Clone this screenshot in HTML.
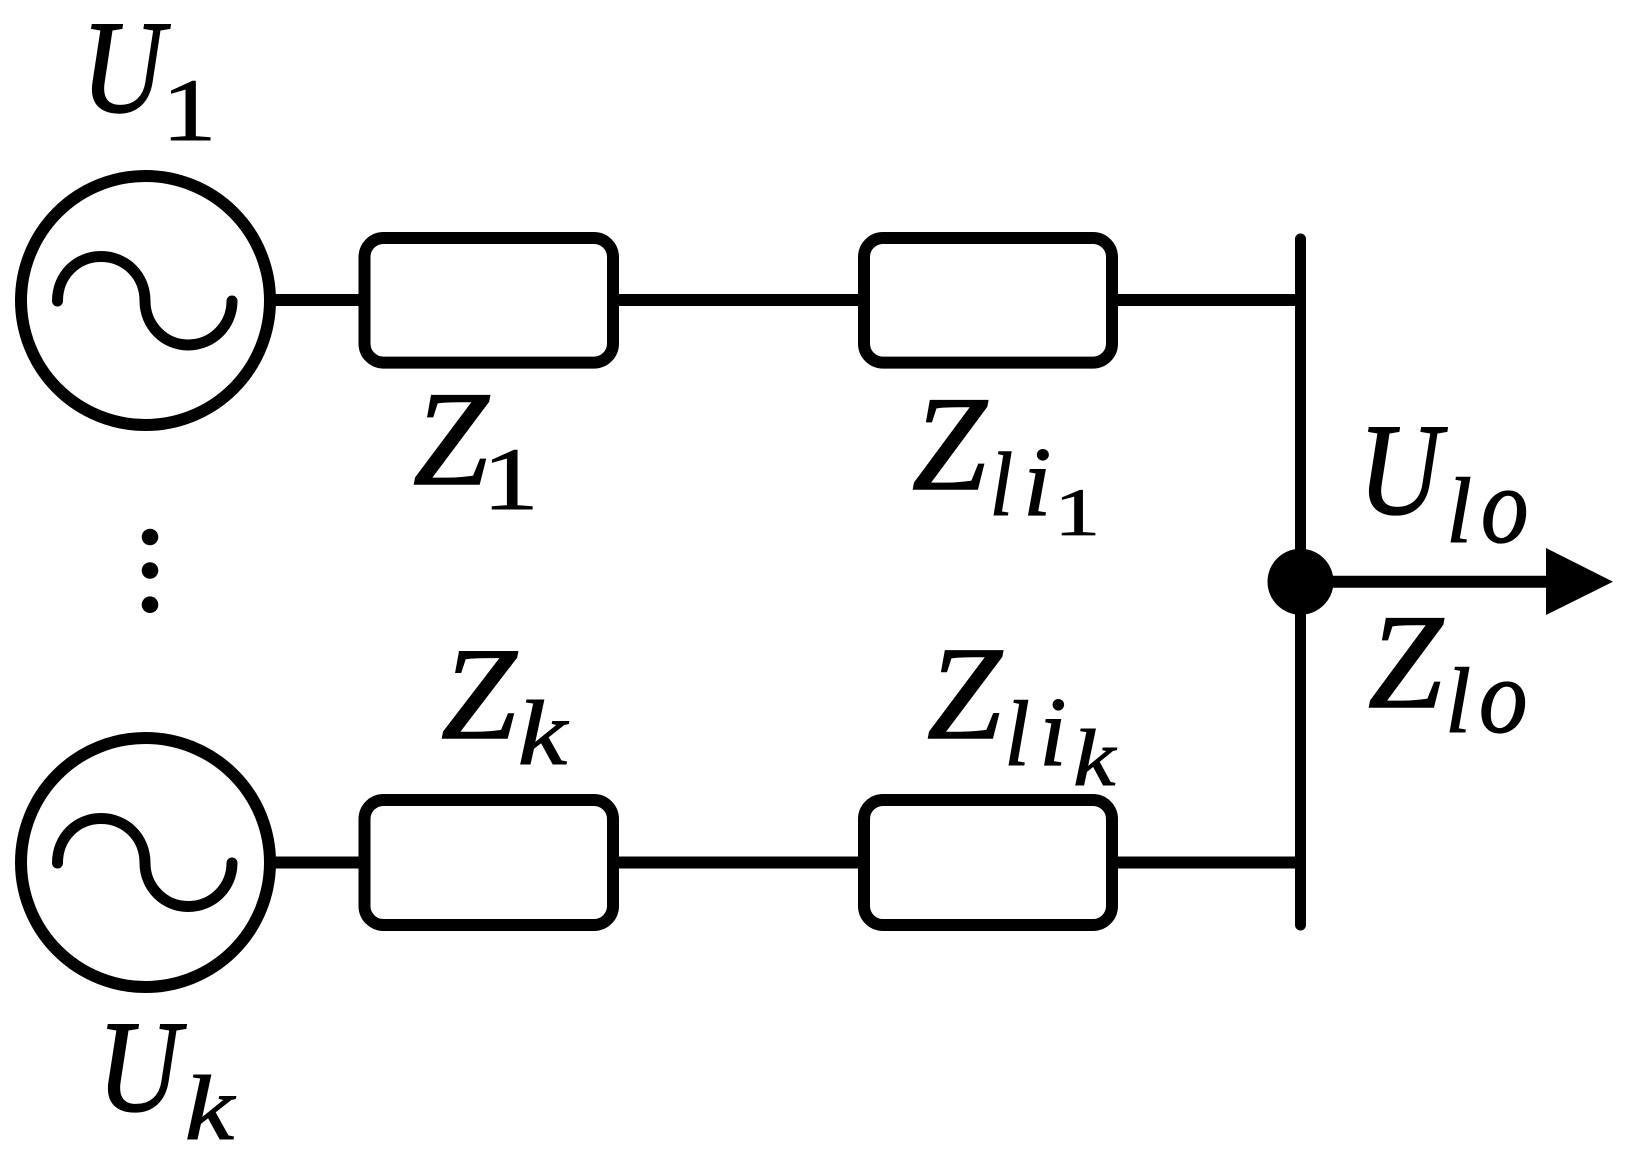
<!DOCTYPE html>
<html>
<head>
<meta charset="utf-8">
<style>
html,body{margin:0;padding:0;background:#fff;width:1629px;height:1151px;overflow:hidden}
svg{display:block}
.i{font-family:"Liberation Serif",serif;font-style:italic;font-size:100px;fill:#000;stroke:#000;stroke-width:1.2px}
.r{font-family:"Liberation Serif",serif;font-size:100px;fill:#000;stroke:#000;stroke-width:1px}
</style>
</head>
<body>
<svg width="1629" height="1151" viewBox="0 0 1629 1151" xmlns="http://www.w3.org/2000/svg">
<rect width="1629" height="1151" fill="#fff"/>
<g fill="none" stroke="#000" stroke-width="12">
  <circle cx="145.5" cy="300.5" r="124.5"/>
  <circle cx="145.5" cy="862.5" r="124.5"/>
  <rect x="364.5" y="238" width="248.5" height="124.6" rx="19" ry="19"/>
  <rect x="864" y="238" width="248" height="124.6" rx="19" ry="19"/>
  <rect x="364.5" y="800" width="248.5" height="125" rx="19" ry="19"/>
  <rect x="864" y="800" width="248" height="125" rx="19" ry="19"/>
  <path d="M270 300H359M619 300H858M1118 300H1296"/>
  <path d="M270 862.5H359M619 862.5H858M1118 862.5H1296"/>
  <path d="M1300 581.7H1550"/>
</g>
<g fill="none" stroke="#000" stroke-width="11" stroke-linecap="round">
  <path d="M57.5 301C57.5 275 77 256.5 101 256.5C125 256.5 145 275 145 301C145 325 164 345 188 345C213 345 232 325 232 301"/>
  <path d="M57.5 863C57.5 837 77 818.5 101 818.5C125 818.5 145 837 145 863C145 887 164 906.5 188 906.5C213 906.5 232 887 232 863"/>
  <path d="M1300.5 239V925"/>
</g>
<circle cx="1300.5" cy="581.7" r="33" fill="#000"/>
<polygon points="1546,548 1613,581.7 1546,615" fill="#000"/>
<circle cx="150" cy="537" r="8.3" fill="#000"/>
<circle cx="150" cy="570.5" r="8.3" fill="#000"/>
<circle cx="150" cy="604.7" r="8.3" fill="#000"/>

<text class="i" transform="translate(81.3 111.6) scale(1.146 1.326)">U</text>
<text class="r" transform="translate(161.6 140) scale(1.10 .888)">1</text>

<text class="i" transform="translate(413 484) scale(1.355 1.348)">Z</text>
<text class="r" transform="translate(482.4 509) scale(1.13 .888)">1</text>

<text class="i" transform="translate(912 489) scale(1.34 1.348)">Z</text>
<text class="i" transform="translate(989.6 515) scale(.84 .908)">l</text>
<text class="i" transform="translate(1023 515) scale(1.02 .99)">i</text>
<text class="r" transform="translate(1054 535) scale(.93 .68)">1</text>

<text class="i" transform="translate(441 738) scale(1.355 1.317)">Z</text>
<text class="i" transform="translate(517.8 764) scale(1.11 .922)">k</text>

<text class="i" transform="translate(927 738) scale(1.34 1.33)">Z</text>
<text class="i" transform="translate(1004.2 765) scale(.92 .937)">l</text>
<text class="i" transform="translate(1039.2 765) scale(.98 .99)">i</text>
<text class="i" transform="translate(1073.1 785) scale(.952 .807)">k</text>

<text class="i" transform="translate(97.3 1110.6) scale(1.146 1.31)">U</text>
<text class="i" transform="translate(184.8 1139) scale(1.11 .922)">k</text>

<text class="i" transform="translate(1358.3 513.6) scale(1.146 1.31)">U</text>
<text class="i" transform="translate(1446.2 542) scale(.924 .937)">l</text>
<text class="i" transform="translate(1481 541.8) scale(.95 1.084)">o</text>

<text class="i" transform="translate(1368 707) scale(1.34 1.348)">Z</text>
<text class="i" transform="translate(1445.2 732) scale(.924 .937)">l</text>
<text class="i" transform="translate(1479 731.8) scale(.97 1.062)">o</text>
</svg>
</body>
</html>
